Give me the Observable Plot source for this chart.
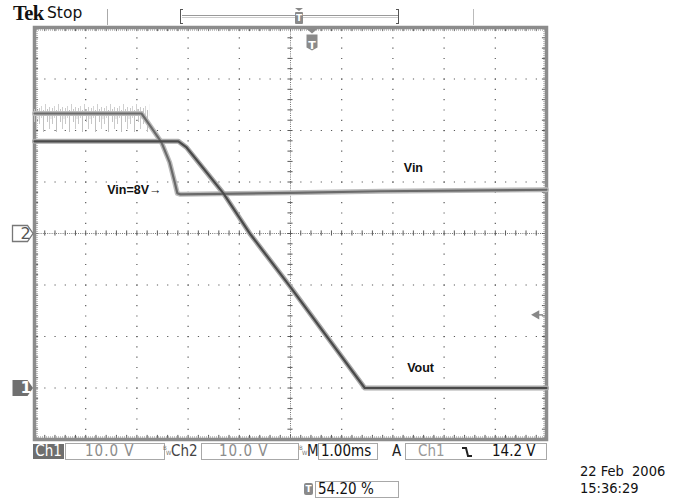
<!DOCTYPE html>
<html><head><meta charset="utf-8">
<script src="https://cdn.jsdelivr.net/npm/d3@7"></script>
<script src="https://cdn.jsdelivr.net/npm/@observablehq/plot@0.6"></script>
<style>
body{margin:0;background:#fff;}
#wrap{position:relative;width:677px;height:500px;overflow:hidden;font-family:"DejaVu Sans Condensed","DejaVu Sans",sans-serif;}
#chart{position:absolute;left:0;top:0;}
.a{position:absolute;white-space:pre;}
.box{position:absolute;top:443px;height:15px;border:1px solid #a8a8a8;font-size:15px;line-height:15px;white-space:pre;}
.st{position:absolute;top:444px;font-size:15px;line-height:15px;white-space:pre;}
.bw{position:absolute;top:444px;width:8px;height:14px;font-size:6px;line-height:6px;color:#777;}
.bw span{position:absolute;}
</style></head><body>
<div id="wrap">
  <div id="chart"></div>
  <!-- header -->
  <div class="a" style="left:13px;top:2px;font-family:'Liberation Serif',serif;font-weight:bold;font-size:20.5px;color:#111;letter-spacing:-0.6px">Tek</div>
  <div class="a" style="left:47px;top:4px;font-family:'DejaVu Sans',sans-serif;font-size:15.5px;color:#111">Stop</div>
  <div class="a" style="left:107px;top:9px;width:1px;height:16px;background:#aaa"></div>
  <div class="a" style="left:180px;top:9px;width:3px;height:15px;border:1.5px solid #555;border-right:none;box-sizing:border-box"></div>
  <div class="a" style="left:182px;top:15px;width:216px;height:3px;border-top:1px solid #999;border-bottom:1px solid #ccc;box-sizing:border-box"></div>
  <div class="a" style="left:396px;top:9px;width:3px;height:15px;border:1.5px solid #555;border-left:none;box-sizing:border-box"></div>
  <div class="a" style="left:295px;top:8px;width:0;height:0;border-left:4px solid transparent;border-right:4px solid transparent;border-top:3px solid #888"></div>
  <div class="a" style="left:295px;top:12px;width:8px;height:12px;background:#8a8a8a;border-radius:1px;color:#fff;font-family:'DejaVu Sans',sans-serif;font-weight:bold;font-size:9px;line-height:12px;text-align:center">T</div>
  <div class="a" style="left:473px;top:9px;width:1px;height:16px;background:#bbb"></div>
  <!-- status row -->
  <div class="st" style="left:33px;width:31px;height:15px;background:#6e6e6e;color:#fff;text-align:center">Ch1</div>
  <div class="box" style="left:65px;width:98px;color:#8c8c8c"><span style="margin-left:19px;letter-spacing:1px">10.0 V</span></div>
  <div class="bw" style="left:163px"><span style="left:0;top:1px">B</span><span style="left:3px;top:6px">W</span></div>
  <div class="st" style="left:171px;color:#444">Ch2</div>
  <div class="box" style="left:201px;width:96px;color:#8c8c8c"><span style="margin-left:17px;letter-spacing:1px">10.0 V</span></div>
  <div class="bw" style="left:299px"><span style="left:0;top:1px">B</span><span style="left:3px;top:6px">W</span></div>
  <div class="st" style="left:307px;color:#222">M</div>
  <div class="box" style="left:318px;width:58px;color:#111"><span style="margin-left:2px">1.00ms</span></div>
  <div class="st" style="left:392px;color:#222">A</div>
  <div class="box" style="left:405px;width:140px;color:#999"><span style="margin-left:12px">Ch1</span></div>
  <svg class="a" style="left:461px;top:446px" width="12" height="12"><path d="M1,2 H5 L7,10 H11" fill="none" stroke="#222" stroke-width="2"/></svg>
  <div class="st" style="left:492px;color:#111">14.2 V</div>
  <!-- bottom -->
  <div class="a" style="left:304px;top:483px;width:9px;height:12px;background:#8a8a8a;border-radius:2px;color:#fff;font-family:'DejaVu Sans',sans-serif;font-weight:bold;font-size:9px;line-height:12px;text-align:center">T</div>
  <div class="box" style="left:315px;top:481px;width:82px;color:#111"><span style="margin-left:2px">54.20 %</span></div>
  <div class="a" style="left:580px;top:463px;font-family:'DejaVu Sans Condensed','DejaVu Sans',sans-serif;font-size:14.5px;line-height:17px;color:#111">22 Feb  2006
15:36:29</div>
</div>
<script>
// ---- scope settings ----
const voltsPerDiv = 10;      // Ch1 and Ch2
const timePerDiv = 1;        // ms (M 1.00ms)
const ch1Offset = -3;        // divisions, Vout ground marker "1"
const ch2Offset = 0;         // divisions, Vin ground marker "2"
const triggerPercent = 54.2; // trigger position
const triggerLevel = 14.2;   // V on Ch1

// ---- Ch2: Vin ----
const vinTime  = [0, 2.09, 2.28, 2.48, 2.64, 2.74, 2.79, 2.85, 5.0, 6.76, 10];
const vinVolts = [23.3, 23.3, 20.6, 17.7, 13.8, 9.9, 7.8, 7.6, 7.9, 8.2, 8.5];
// Vin noise envelope before the drop
const vinNoiseTime = [0, 2.25];
const vinNoiseHigh = [25.4, 25.4];
const vinNoiseLow  = [19.4, 19.4];

// ---- Ch1: Vout ----
const voutTime  = [0, 2.81, 2.97, 3.14, 3.69, 4.22, 5.0, 6.45, 10];
const voutVolts = [47.9, 47.9, 46.7, 44.6, 37.8, 29.8, 19.6, 0, 0];

// ---- annotations ----
const labelText    = ["Vin", "Vout", "Vin=8V→"];
const labelTime    = [7.40, 7.54, 1.95];
const labelVolts   = [12.8, 3.8, 8.5];
const labelChannel = [ch2Offset, ch1Offset, ch2Offset];

const divs = (off, v) => off + v / voltsPerDiv;
const vin  = vinTime.map((t, i) => ({t, y: divs(ch2Offset, vinVolts[i])}));
const vout = voutTime.map((t, i) => ({t, y: divs(ch1Offset, voutVolts[i])}));
const noise = vinNoiseTime.map((t, i) => ({t, lo: divs(ch2Offset, vinNoiseLow[i]), hi: divs(ch2Offset, vinNoiseHigh[i])}));
const labels = labelText.map((text, i) => ({text, t: labelTime[i], y: divs(labelChannel[i], labelVolts[i])}));

const xDivs = 10, yDivs = 8;
const tMax = xDivs * timePerDiv;
const majorX = d3.range(1, xDivs).filter(d => d !== 5).map(d => d * timePerDiv);
const majorY = d3.range(-3, 4).filter(d => d !== 0);
const minorX = d3.range(0, xDivs * 5 + 1).map(i => i * timePerDiv / 5);
const minorY = d3.range(-20, 21).map(i => i / 5);

const chanSymbol = {draw(c) { c.moveTo(-10, -8); c.lineTo(5, -8); c.lineTo(10.5, 0); c.lineTo(5, 8); c.lineTo(-10, 8); c.closePath(); }};
const trigSymbol = {draw(c) {
  c.moveTo(-6, -11); c.lineTo(6, -11); c.lineTo(0, -6); c.closePath();
  c.moveTo(-5.5, -5); c.lineTo(5.5, -5); c.lineTo(5.5, 8); c.lineTo(0, 11); c.lineTo(-5.5, 8); c.closePath();
}};

const grid = "#5a5a5a";
const plot = Plot.plot({
  width: 677, height: 442,
  marginLeft: 34, marginRight: 131, marginTop: 27, marginBottom: 3,
  x: {domain: [0, tMax], axis: null},
  y: {domain: [-yDivs / 2, yDivs / 2], axis: null},
  style: {fontFamily: "'Liberation Sans', Arial, sans-serif", background: "white"},
  marks: [
    // dotted graticule
    Plot.ruleX(majorX, {stroke: grid, strokeWidth: 1.2, strokeDasharray: "1.2,9.1"}),
    Plot.ruleY(majorY, {stroke: grid, strokeWidth: 1.2, strokeDasharray: "1.2,9.04"}),
    Plot.ruleX([5 * timePerDiv], {stroke: "#777", strokeDasharray: "1,1.2"}),
    Plot.ruleY([0], {stroke: "#777", strokeDasharray: "1,1.2"}),
    Plot.ruleX(minorX, {y1: -0.05, y2: 0.05, stroke: grid}),
    Plot.ruleY(minorY, {x1: 5 * timePerDiv - 0.05, x2: 5 * timePerDiv + 0.05, stroke: grid}),
    // edge ticks
    Plot.ruleX(minorX, {y1: 4, y2: 3.92, stroke: grid}),
    Plot.ruleX(minorX, {y1: -4, y2: -3.92, stroke: grid}),
    Plot.ruleY(minorY, {x1: 0, x2: 0.08, stroke: grid}),
    Plot.ruleY(minorY, {x1: tMax, x2: tMax - 0.08, stroke: grid}),
    Plot.ruleY([4], {dy: 2.5, stroke: "#888", strokeDasharray: "1,1"}),
    Plot.ruleY([-4], {dy: -2.5, stroke: "#888", strokeDasharray: "1,1"}),
    Plot.ruleX([0], {dx: 2.5, stroke: "#888", strokeDasharray: "1,1"}),
    Plot.ruleX([tMax], {dx: -2.5, stroke: "#888", strokeDasharray: "1,1"}),
    Plot.frame({stroke: "#8c8c8c", strokeWidth: 3.5}),
    // Vin noise (streaky hatch fill)
    Plot.areaY(noise, {x: "t", y1: "lo", y2: "hi", fill: "url(#noiseHatch)"}),
    // traces: halo + core
    Plot.line(vin, {x: "t", y: "y", stroke: "#bbbbbb", strokeWidth: 5, strokeLinejoin: "round"}),
    Plot.line(vout, {x: "t", y: "y", stroke: "#aaaaaa", strokeWidth: 5, strokeLinejoin: "round"}),
    Plot.line(vin, {x: "t", y: "y", stroke: "#6a6a6a", strokeWidth: 2.2, strokeLinejoin: "round"}),
    Plot.line(vout, {x: "t", y: "y", stroke: "#4a4a4a", strokeWidth: 2.2, strokeLinejoin: "round"}),
    // labels
    Plot.text(labels, {x: "t", y: "y", text: "text", fontWeight: "bold", fontSize: 12.5, fill: "#111"}),
    // channel ground markers
    Plot.dot([ch2Offset], {y: d => d, frameAnchor: "left", dx: -12, symbol: chanSymbol, fill: "white", stroke: "#777", strokeWidth: 1.3}),
    Plot.text(["2"], {y: () => ch2Offset, frameAnchor: "left", dx: -14, fontSize: 16, fill: "#555", fontFamily: "DejaVu Sans"}),
    Plot.dot([ch1Offset], {y: d => d, frameAnchor: "left", dx: -12, symbol: chanSymbol, fill: "#707070"}),
    Plot.text(["1"], {y: () => ch1Offset, frameAnchor: "left", dx: -14, fontSize: 16, fill: "white", fontWeight: "bold", fontFamily: "DejaVu Sans"}),
    // trigger level arrow (right)
    Plot.ruleY([triggerLevel], {y: d => divs(ch1Offset, d), x1: tMax - 0.16, x2: tMax - 0.06, stroke: "#888", strokeWidth: 1.5}),
    Plot.dot([triggerLevel], {y: d => divs(ch1Offset, d), frameAnchor: "right", dx: -10, symbol: "triangle", rotate: -90, r: 3.5, fill: "#888"}),
    // trigger position marker (top)
    Plot.dot([triggerPercent], {x: d => d / 100 * tMax, frameAnchor: "top", dy: 12, symbol: trigSymbol, fill: "#8a8a8a"}),
    Plot.text(["T"], {x: () => triggerPercent / 100 * tMax, frameAnchor: "top", dy: 14, fill: "white", fontWeight: "bold", fontSize: 11, fontFamily: "DejaVu Sans"})
  ]
});

// streak pattern used as the noise fill (style only)
const ns = "http://www.w3.org/2000/svg";
const defs = document.createElementNS(ns, "defs");
const pat = document.createElementNS(ns, "pattern");
pat.setAttribute("id", "noiseHatch");
pat.setAttribute("patternUnits", "userSpaceOnUse");
pat.setAttribute("x", "0"); pat.setAttribute("y", "102");
pat.setAttribute("width", "13"); pat.setAttribute("height", "31");
[[0.5, 6, 22, "#c8c8c8"], [2.5, 4, 16, "#d4d4d4"], [4.5, 8, 30, "#c0c0c0"], [6.5, 2, 14, "#d0d0d0"],
 [8.5, 7, 20, "#c4c4c4"], [10.5, 5, 27, "#cccccc"], [12, 9, 17, "#d8d8d8"]].forEach(([x, y1, y2, c]) => {
  const l = document.createElementNS(ns, "line");
  l.setAttribute("x1", x); l.setAttribute("x2", x);
  l.setAttribute("y1", y1); l.setAttribute("y2", y2);
  l.setAttribute("stroke", c); l.setAttribute("stroke-width", "1");
  pat.appendChild(l);
});
defs.appendChild(pat);
plot.insertBefore(defs, plot.firstChild);
document.getElementById("chart").appendChild(plot);
</script>
</body></html>
